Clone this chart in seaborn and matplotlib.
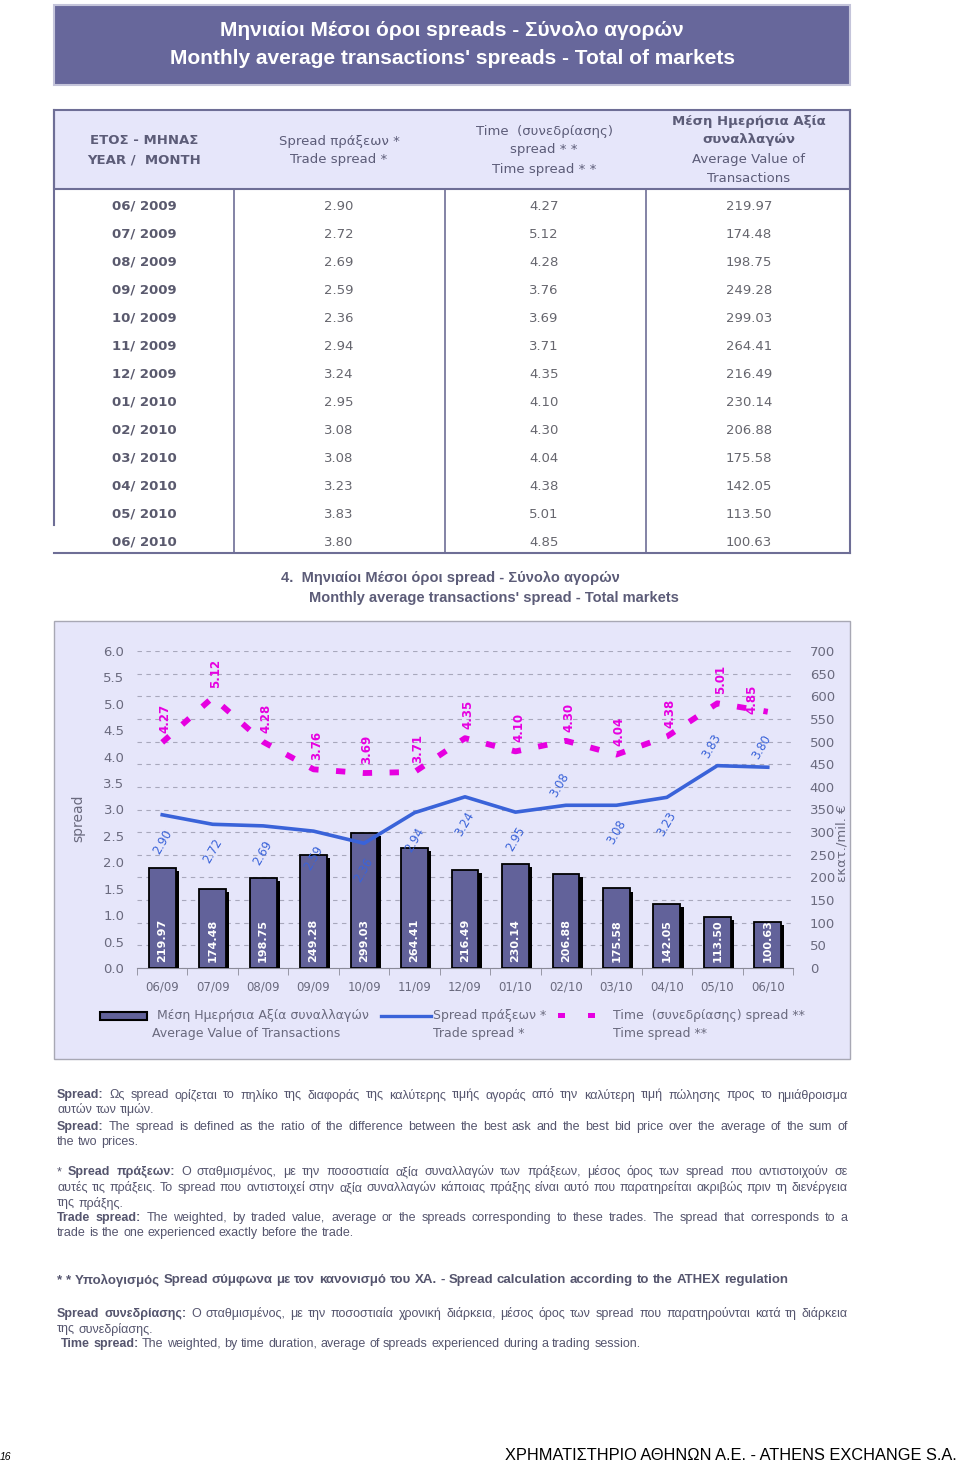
import numpy as np
import pandas as pd
import matplotlib
matplotlib.use("Agg")
import matplotlib.pyplot as plt
import matplotlib.patheffects as pe
from matplotlib.patches import Rectangle
import seaborn as sns

# ---- data ----
months = ['06/09', '07/09', '08/09', '09/09', '10/09', '11/09', '12/09',
          '01/10', '02/10', '03/10', '04/10', '05/10', '06/10']
trade_spread = [2.90, 2.72, 2.69, 2.59, 2.36, 2.94, 3.24, 2.95, 3.08, 3.08, 3.23, 3.83, 3.80]
time_spread = [4.27, 5.12, 4.28, 3.76, 3.69, 3.71, 4.35, 4.10, 4.30, 4.04, 4.38, 5.01, 4.85]
avg_value = [219.97, 174.48, 198.75, 249.28, 299.03, 264.41, 216.49,
             230.14, 206.88, 175.58, 142.05, 113.50, 100.63]
trade_label_side = ['below'] * 8 + ['above', 'below', 'below', 'above', 'above']

df = pd.DataFrame({'month': months, 'pos': np.arange(len(months)),
                   'trade': trade_spread, 'time': time_spread, 'value': avg_value})

BANNER = '#67679B'
HEAD_BG = '#E6E6FA'
BORDER = '#6E6E96'
CHART_BG = '#E6E6FA'
BAR = '#62629A'
BLUE = '#3A63D9'
MAGENTA = '#E600E0'
TXT = '#5C5C78'
TICK = '#6A6A7E'
FOOT = '#55556E'

fig = plt.figure(figsize=(9.6, 14.63), dpi=100)
renderer = fig.canvas.get_renderer()

# page layer in pixel coordinates
page = fig.add_axes([0, 0, 1, 1])
page.set_xlim(0, 960)
page.set_ylim(1463, 0)
page.axis('off')

# ---- title banner ----
page.add_patch(Rectangle((54, 5), 796, 80, fc=BANNER, ec='#C4C4DA', lw=1.5))
page.text(452, 30, 'Μηνιαίοι Μέσοι όροι spreads - Σύνολο αγορών', ha='center', va='center',
          color='white', fontsize=15, fontweight='bold', family='Liberation Sans')
page.text(452, 58, "Monthly average transactions' spreads - Total of markets", ha='center',
          va='center', color='white', fontsize=15, fontweight='bold', family='Liberation Sans')

# ---- table ----
page.add_patch(Rectangle((54, 110), 796, 79, fc=HEAD_BG, ec=BORDER, lw=1.5))
for x in (234, 445, 646):
    page.plot([x, x], [189, 553], color=BORDER, lw=1.2)
page.plot([850, 850], [110, 553], color=BORDER, lw=1.5)
page.plot([54, 54], [110, 525], color=BORDER, lw=1.5)
page.plot([54, 850], [553, 553], color=BORDER, lw=1.5)

hdr = dict(ha='center', va='center', color=TXT, fontsize=9.5, family='DejaVu Sans')
page.text(144, 141, 'ΕΤΟΣ - ΜΗΝΑΣ', fontweight='bold', **hdr)
page.text(144, 160, 'YEAR /  MONTH', fontweight='bold', **hdr)
page.text(339, 141, 'Spread πράξεων *', **hdr)
page.text(339, 160, 'Trade spread *', **hdr)
page.text(544, 131, 'Time  (συνεδρίασης)', **hdr)
page.text(544, 150, 'spread * *', **hdr)
page.text(544, 169, 'Time spread * *', **hdr)
page.text(749, 121, 'Μέση Ημερήσια Αξία', fontweight='bold', **hdr)
page.text(749, 140, 'συναλλαγών', fontweight='bold', **hdr)
page.text(749, 160, 'Average Value of', **hdr)
page.text(749, 179, 'Transactions', **hdr)

cell = dict(ha='center', va='center', fontsize=9.5, family='DejaVu Sans')
for i, m in enumerate(months):
    y = 206 + 28 * i
    page.text(144, y, f'{m[:2]}/ 20{m[3:]}', color='#5A5A6E', fontweight='bold', **cell)
    page.text(339, y, f'{trade_spread[i]:.2f}', color='#66666E', **cell)
    page.text(544, y, f'{time_spread[i]:.2f}', color='#66666E', **cell)
    page.text(749, y, f'{avg_value[i]:.2f}', color='#66666E', **cell)

# ---- chart title ----
page.text(450, 578, '4.  Μηνιαίοι Μέσοι όροι spread - Σύνολο αγορών', ha='center', va='center',
          color=TXT, fontsize=10.5, fontweight='bold', family='Liberation Sans')
page.text(494, 598, "Monthly average transactions' spread - Total markets", ha='center',
          va='center', color=TXT, fontsize=10.5, fontweight='bold', family='Liberation Sans')

# ---- chart box ----
page.add_patch(Rectangle((54, 621), 796, 438, fc=CHART_BG, ec='#A8A8B4', lw=1))

ax = fig.add_axes([137 / 960, 1 - 968 / 1463, 656 / 960, 317 / 1463])
ax.patch.set_visible(False)
ax.set_axisbelow(True)

sns.barplot(data=df, x='month', y='value', color=BAR, width=0.53, saturation=1,
            edgecolor='black', linewidth=1.3, ax=ax, zorder=3)
for p in ax.patches:
    p.set_path_effects([pe.SimplePatchShadow(offset=(2.4, -2.2), shadow_rgbFace='black', alpha=1.0),
                        pe.Normal()])

ax2 = ax.twinx()
ax2.patch.set_visible(False)

ax.set_ylim(0, 700)
ax.set_yticks(np.arange(0, 701, 50))
ax.yaxis.set_ticks_position('right')
ax.tick_params(axis='y', labelleft=False, labelright=True)
ax.yaxis.grid(True, ls=(0, (4, 4)), color='#A8A8BC', lw=0.8)
ax.set_xlim(-0.5, len(months) - 0.5)
ax.set_xticks(np.arange(-0.5, len(months), 1), minor=True)
ax.tick_params(axis='x', which='major', length=0, pad=9, labelsize=8.5, labelcolor=TICK)
ax.tick_params(axis='x', which='minor', length=5, color='#8A8A98', direction='out')
ax.tick_params(axis='y', length=0, pad=12, labelsize=9.5, labelcolor=TICK)
ax.set_xlabel('')
ax.set_ylabel('')
for s in ('top', 'left', 'right'):
    ax.spines[s].set_visible(False)
ax.spines['bottom'].set_color('#8A8A98')

for p, v in zip(ax.patches, avg_value):
    ax.annotate(f'{v:.2f}', (p.get_x() + p.get_width() / 2, 0), xytext=(0, 6),
                textcoords='offset pixels', rotation=90, ha='center', va='bottom',
                color='white', fontsize=8, fontweight='bold', zorder=5)

sns.lineplot(data=df, x='pos', y='trade', color=BLUE, lw=2.6, ax=ax2, zorder=4)
sns.lineplot(data=df, x='pos', y='time', color=MAGENTA, lw=4.2, ax=ax2, zorder=4,
             linestyle=(0, (1.6, 3.0)))
ax2.set_ylim(0, 6)
ax2.set_yticks(np.arange(0, 6.01, 0.5))
ax2.set_yticklabels([f'{t:.1f}' for t in np.arange(0, 6.01, 0.5)])
ax2.yaxis.set_ticks_position('left')
ax2.tick_params(axis='y', labelleft=True, labelright=False, length=0, pad=9,
                labelsize=9.5, labelcolor=TICK)
ax2.set_xlim(-0.5, len(months) - 0.5)
ax2.set_xlabel('')
ax2.set_ylabel('')
for s in ax2.spines.values():
    s.set_visible(False)

for i, (v, side) in enumerate(zip(trade_spread, trade_label_side)):
    off = (-6, 20) if side == 'above' else (0, -27)
    ax2.annotate(f'{v:.2f}', (i, v), xytext=off, textcoords='offset pixels', rotation=60,
                 ha='center', va='center', color=BLUE, fontsize=8.5, zorder=6)
for i, v in enumerate(time_spread):
    off = (-16, -2) if i == len(months) - 1 else (3, 9)
    ax2.annotate(f'{v:.2f}', (i, v), xytext=off, textcoords='offset pixels', rotation=90,
                 ha='center', va='bottom', color=MAGENTA, fontsize=8.5, fontweight='bold',
                 zorder=6)

page.text(78, 818, 'spread', rotation=90, ha='center', va='center', color=TICK, fontsize=10)
page.text(842, 843, 'εκατ./mil. €', rotation=90, ha='center', va='center', color=TICK,
          fontsize=9.5)

# ---- legend ----
leg = dict(va='center', ha='left', color=TICK, fontsize=9, family='DejaVu Sans')
page.add_patch(Rectangle((100, 1012), 47, 8, fc=BAR, ec='black', lw=1.5))
page.text(157, 1016, 'Μέση Ημερήσια Αξία συναλλαγών', **leg)
page.text(152, 1033, 'Average Value of Transactions', **leg)
page.plot([381, 431], [1016, 1016], color=BLUE, lw=2.4)
page.text(433, 1016, 'Spread πράξεων *', **leg)
page.text(433, 1033, 'Trade spread *', **leg)
page.add_patch(Rectangle((558, 1013), 7, 5, fc=MAGENTA, ec='none'))
page.add_patch(Rectangle((588, 1013), 7, 5, fc=MAGENTA, ec='none'))
page.text(613, 1016, 'Time  (συνεδρίασης) spread **', **leg)
page.text(613, 1033, 'Time spread **', **leg)


# ---- footnotes ----
def rich_line(y, parts, justify=False, x0=57, x1=848, size=9.0):
    while True:
        objs = []
        for txt, bold in parts:
            for w in txt.split(' '):
                if w:
                    objs.append(page.text(0, y, w, fontsize=size, color=FOOT, va='center',
                                          ha='left', family='Liberation Sans',
                                          fontweight='bold' if bold else 'normal'))
        widths = [t.get_window_extent(renderer).width for t in objs]
        gap = size * 100 / 72 * 0.28
        if justify and len(objs) > 1:
            gap = (x1 - x0 - sum(widths)) / (len(objs) - 1)
        if gap >= 2.0:
            break
        for t in objs:
            t.remove()
        size -= 0.2
    x = x0
    for t, w in zip(objs, widths):
        t.set_x(x)
        x += w + gap


rich_line(1095, [('Spread:', True), (' Ως spread ορίζεται το πηλίκο της διαφοράς της καλύτερης '
                                     'τιμής αγοράς από την καλύτερη τιμή πώλησης προς το ημιάθροισμα', False)],
          justify=True)
rich_line(1110, [('αυτών των τιμών.', False)])
rich_line(1127, [('Spread:', True), (' The spread is defined as the ratio of the difference between '
                                     'the best ask and the best bid price over the average of the sum of', False)],
          justify=True)
rich_line(1142, [('the two prices.', False)])
rich_line(1172, [('*', False), ('Spread πράξεων:', True),
                 (' Ο σταθμισμένος, με την ποσοστιαία αξία συναλλαγών των πράξεων, μέσος όρος των '
                  'spread που αντιστοιχούν σε', False)], justify=True)
rich_line(1188, [('αυτές τις πράξεις. Το spread που αντιστοιχεί στην αξία συναλλαγών κάποιας πράξης '
                  'είναι αυτό που παρατηρείται ακριβώς πριν τη διενέργεια', False)], justify=True)
rich_line(1203, [('της πράξης.', False)])
rich_line(1218, [('Trade spread:', True), (' The weighted, by traded value, average or the spreads '
                                           'corresponding to these trades. The spread that corresponds to a', False)],
          justify=True)
rich_line(1233, [('trade is the one experienced exactly before the trade.', False)])
rich_line(1280, [('*  *  Υπολογισμός Spread σύμφωνα με τον κανονισμό  του ΧΑ. - Spread calculation '
                  'according to the ATHEX regulation', True)], size=9.5)
rich_line(1314, [('Spread συνεδρίασης:', True),
                 (' Ο σταθμισμένος, με την ποσοστιαία χρονική διάρκεια, μέσος όρος των spread που '
                  'παρατηρούνται κατά τη διάρκεια', False)], justify=True)
rich_line(1329, [('της συνεδρίασης.', False)])
rich_line(1344, [('Time spread:', True), (' The weighted, by time duration, average of spreads '
                                          'experienced during a trading session.', False)], x0=61)

# ---- footer ----
page.text(0, 1457, '16', ha='left', va='center', fontsize=7.5, style='italic',
          family='Liberation Sans', color='black')
page.text(505, 1455, 'ΧΡΗΜΑΤΙΣΤΗΡΙΟ ΑΘΗΝΩΝ Α.Ε. - ATHENS EXCHANGE S.A.', ha='left', va='center',
          fontsize=11.8, family='Liberation Sans', color='black')

fig.savefig('out.png', dpi=100)
